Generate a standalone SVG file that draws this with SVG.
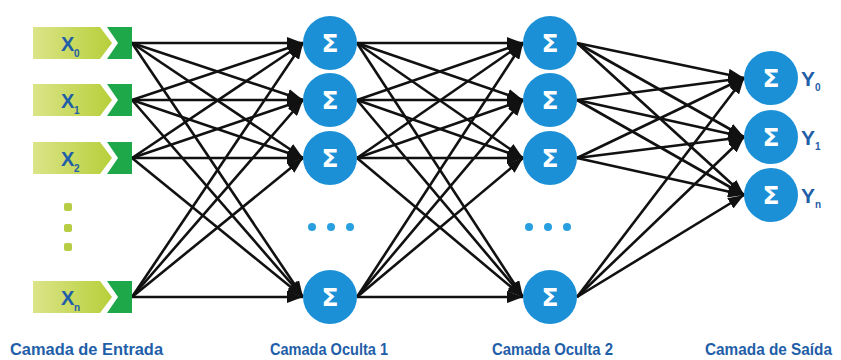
<svg xmlns="http://www.w3.org/2000/svg" width="841" height="360" viewBox="0 0 841 360">
<style>
.lbl{font-family:"Liberation Sans",Arial,sans-serif;font-weight:bold;fill:#1f5ea8}
.sig{font-family:"DejaVu Sans","Liberation Sans",sans-serif;font-weight:bold;fill:#fff;font-size:25px}
.neuron{fill:#1b90d6}
.edge{stroke:#111;stroke-width:2.6;fill:none;marker-end:url(#ah)}
.light{fill:url(#lg)}
.dark{fill:#1ea84a}
.gdot{fill:#b6cd45}
.bdot{fill:#28a0e0}
</style>
<defs>
<linearGradient id="lg" x1="0" y1="0" x2="1" y2="0">
<stop offset="0" stop-color="#dbe488"/>
<stop offset="1" stop-color="#b7cf3a"/>
</linearGradient>
<marker id="ah" markerUnits="userSpaceOnUse" markerWidth="16" markerHeight="12" refX="16" refY="6" orient="auto">
<path d="M0,0 L16,6 L0,12 z" fill="#111"/>
</marker>
<g id="inbox">
<polygon class="light" points="33,-16 100,-16 112,0 100,16 33,16"/>
<polygon class="dark" points="107,-16 132,-16 132,16 107,16 118,0"/>
</g>
</defs>
<rect width="841" height="360" fill="#fff"/>

<g id="connectors">
<line class="edge" x1="132" y1="43" x2="303" y2="43"/>
<line class="edge" x1="132" y1="43" x2="303" y2="100"/>
<line class="edge" x1="132" y1="43" x2="303" y2="158"/>
<line class="edge" x1="132" y1="43" x2="303" y2="297"/>
<line class="edge" x1="132" y1="100" x2="303" y2="43"/>
<line class="edge" x1="132" y1="100" x2="303" y2="100"/>
<line class="edge" x1="132" y1="100" x2="303" y2="158"/>
<line class="edge" x1="132" y1="100" x2="303" y2="297"/>
<line class="edge" x1="132" y1="158" x2="303" y2="43"/>
<line class="edge" x1="132" y1="158" x2="303" y2="100"/>
<line class="edge" x1="132" y1="158" x2="303" y2="158"/>
<line class="edge" x1="132" y1="158" x2="303" y2="297"/>
<line class="edge" x1="132" y1="297" x2="303" y2="43"/>
<line class="edge" x1="132" y1="297" x2="303" y2="100"/>
<line class="edge" x1="132" y1="297" x2="303" y2="158"/>
<line class="edge" x1="132" y1="297" x2="303" y2="297"/>
<line class="edge" x1="357" y1="43" x2="523" y2="43"/>
<line class="edge" x1="357" y1="43" x2="523" y2="100"/>
<line class="edge" x1="357" y1="43" x2="523" y2="158"/>
<line class="edge" x1="357" y1="43" x2="523" y2="297"/>
<line class="edge" x1="357" y1="100" x2="523" y2="43"/>
<line class="edge" x1="357" y1="100" x2="523" y2="100"/>
<line class="edge" x1="357" y1="100" x2="523" y2="158"/>
<line class="edge" x1="357" y1="100" x2="523" y2="297"/>
<line class="edge" x1="357" y1="158" x2="523" y2="43"/>
<line class="edge" x1="357" y1="158" x2="523" y2="100"/>
<line class="edge" x1="357" y1="158" x2="523" y2="158"/>
<line class="edge" x1="357" y1="158" x2="523" y2="297"/>
<line class="edge" x1="357" y1="297" x2="523" y2="43"/>
<line class="edge" x1="357" y1="297" x2="523" y2="100"/>
<line class="edge" x1="357" y1="297" x2="523" y2="158"/>
<line class="edge" x1="357" y1="297" x2="523" y2="297"/>
<line class="edge" x1="577" y1="43" x2="744" y2="78"/>
<line class="edge" x1="577" y1="43" x2="744" y2="137"/>
<line class="edge" x1="577" y1="43" x2="744" y2="195"/>
<line class="edge" x1="577" y1="100" x2="744" y2="78"/>
<line class="edge" x1="577" y1="100" x2="744" y2="137"/>
<line class="edge" x1="577" y1="100" x2="744" y2="195"/>
<line class="edge" x1="577" y1="158" x2="744" y2="78"/>
<line class="edge" x1="577" y1="158" x2="744" y2="137"/>
<line class="edge" x1="577" y1="158" x2="744" y2="195"/>
<line class="edge" x1="577" y1="297" x2="744" y2="78"/>
<line class="edge" x1="577" y1="297" x2="744" y2="137"/>
<line class="edge" x1="577" y1="297" x2="744" y2="195"/>
</g>

<g id="x0"><use href="#inbox" transform="translate(0,43)"/><text class="lbl" x="61" y="51" font-size="20">X</text><text class="lbl" x="74" y="57" font-size="10">0</text></g>
<g id="x1"><use href="#inbox" transform="translate(0,100)"/><text class="lbl" x="61" y="108" font-size="20">X</text><text class="lbl" x="74" y="114" font-size="10">1</text></g>
<g id="x2"><use href="#inbox" transform="translate(0,158)"/><text class="lbl" x="61" y="166" font-size="20">X</text><text class="lbl" x="74" y="172" font-size="10">2</text></g>
<g id="xdots"><rect class="gdot" x="64" y="203" width="8" height="8" rx="2"/><rect class="gdot" x="64" y="224" width="8" height="8" rx="2"/><rect class="gdot" x="64" y="243" width="8" height="8" rx="2"/></g>
<g id="xn"><use href="#inbox" transform="translate(0,297)"/><text class="lbl" x="61" y="305" font-size="20">X</text><text class="lbl" x="74" y="311" font-size="10">n</text></g>

<g id="h1_0"><circle class="neuron" cx="330" cy="43" r="27"/><text class="sig" x="330" y="52" text-anchor="middle">Σ</text></g>
<g id="h1_1"><circle class="neuron" cx="330" cy="100" r="27"/><text class="sig" x="330" y="109" text-anchor="middle">Σ</text></g>
<g id="h1_2"><circle class="neuron" cx="330" cy="158" r="27"/><text class="sig" x="330" y="167" text-anchor="middle">Σ</text></g>
<g id="h1_dots"><circle class="bdot" cx="312" cy="227" r="4"/><circle class="bdot" cx="331" cy="227" r="4"/><circle class="bdot" cx="350" cy="227" r="4"/></g>
<g id="h1_n"><circle class="neuron" cx="330" cy="297" r="27"/><text class="sig" x="330" y="306" text-anchor="middle">Σ</text></g>

<g id="h2_0"><circle class="neuron" cx="550" cy="43" r="27"/><text class="sig" x="550" y="52" text-anchor="middle">Σ</text></g>
<g id="h2_1"><circle class="neuron" cx="550" cy="100" r="27"/><text class="sig" x="550" y="109" text-anchor="middle">Σ</text></g>
<g id="h2_2"><circle class="neuron" cx="550" cy="158" r="27"/><text class="sig" x="550" y="167" text-anchor="middle">Σ</text></g>
<g id="h2_dots"><circle class="bdot" cx="529" cy="227" r="4"/><circle class="bdot" cx="548" cy="227" r="4"/><circle class="bdot" cx="567" cy="227" r="4"/></g>
<g id="h2_n"><circle class="neuron" cx="550" cy="297" r="27"/><text class="sig" x="550" y="306" text-anchor="middle">Σ</text></g>

<g id="y0"><circle class="neuron" cx="771" cy="78" r="27"/><text class="sig" x="771" y="87" text-anchor="middle">Σ</text><text class="lbl" x="801" y="86" font-size="21">Y</text><text class="lbl" x="815" y="91" font-size="10">0</text></g>
<g id="y1"><circle class="neuron" cx="771" cy="137" r="27"/><text class="sig" x="771" y="146" text-anchor="middle">Σ</text><text class="lbl" x="801" y="145" font-size="21">Y</text><text class="lbl" x="815" y="150" font-size="10">1</text></g>
<g id="yn"><circle class="neuron" cx="771" cy="195" r="27"/><text class="sig" x="771" y="204" text-anchor="middle">Σ</text><text class="lbl" x="801" y="203" font-size="21">Y</text><text class="lbl" x="815" y="208" font-size="10">n</text></g>

<g id="labels">
<text class="lbl" x="10" y="355" font-size="16" textLength="153" lengthAdjust="spacingAndGlyphs">Camada de Entrada</text>
<text class="lbl" x="270" y="355" font-size="16" textLength="118" lengthAdjust="spacingAndGlyphs">Camada Oculta 1</text>
<text class="lbl" x="492" y="355" font-size="16" textLength="121" lengthAdjust="spacingAndGlyphs">Camada Oculta 2</text>
<text class="lbl" x="705" y="355" font-size="16" textLength="127" lengthAdjust="spacingAndGlyphs">Camada de Saída</text>
</g>
</svg>
